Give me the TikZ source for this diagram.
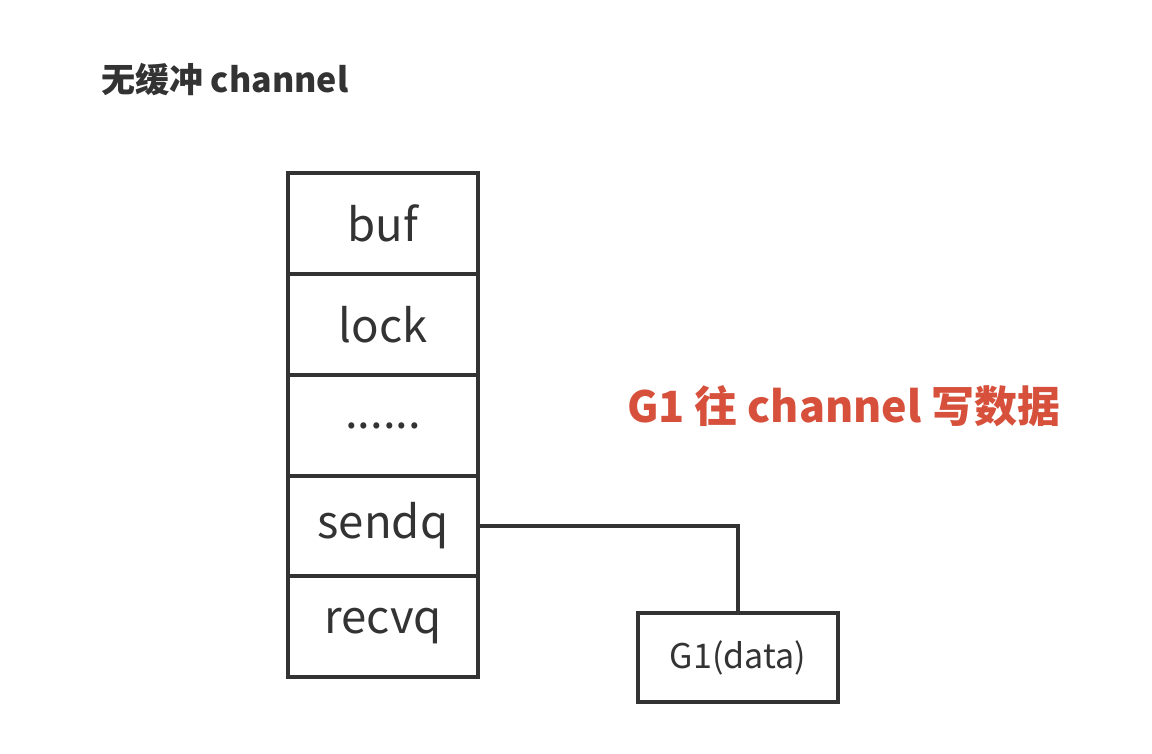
\documentclass[tikz,border=0pt]{standalone}
\usepackage{fontspec}
\setmainfont{Noto Sans CJK SC}
\usetikzlibrary{positioning}
\definecolor{ink}{HTML}{333333}
\definecolor{redtxt}{HTML}{D6503C}
\begin{document}
\begin{tikzpicture}[x=1pt,y=-1pt,
  cell/.style={draw=ink,line width=3.5pt,minimum width=190pt,minimum height=101pt,inner sep=0pt,text=ink,font=\fontsize{45.5}{50}\selectfont},
  gbox/.style={draw=ink,line width=3.5pt,minimum width=200pt,minimum height=89pt,inner sep=0pt,text=ink,font=\fontsize{34}{40}\selectfont},
  wire/.style={draw=ink,line width=3.5pt}]
\useasboundingbox[fill=white] (0,0) rectangle (1152,754);
\node[anchor=west,inner sep=0pt,text=ink,font=\fontsize{34}{40}\selectfont\bfseries] (title) at (101,80) {无缓冲 channel};
\node[cell] (buf) at (383,223.5) {buf};
\node[cell] (lock) at (383,324.5) {lock};
\node[cell] (dots) at (383,425.5) {......};
\node[cell] (sendq) at (383,526) {sendq};
\node[cell] (recvq) at (383,626.5) {recvq};
\node[gbox] (g1) at (738,657.5) {G1(data)};
\node[text=redtxt,font=\fontsize{43}{48}\selectfont\bfseries] (note) at (844,406) {G1 往 channel 写数据};
\draw[wire] (sendq.east) -| (g1.north);
\end{tikzpicture}
\end{document}
